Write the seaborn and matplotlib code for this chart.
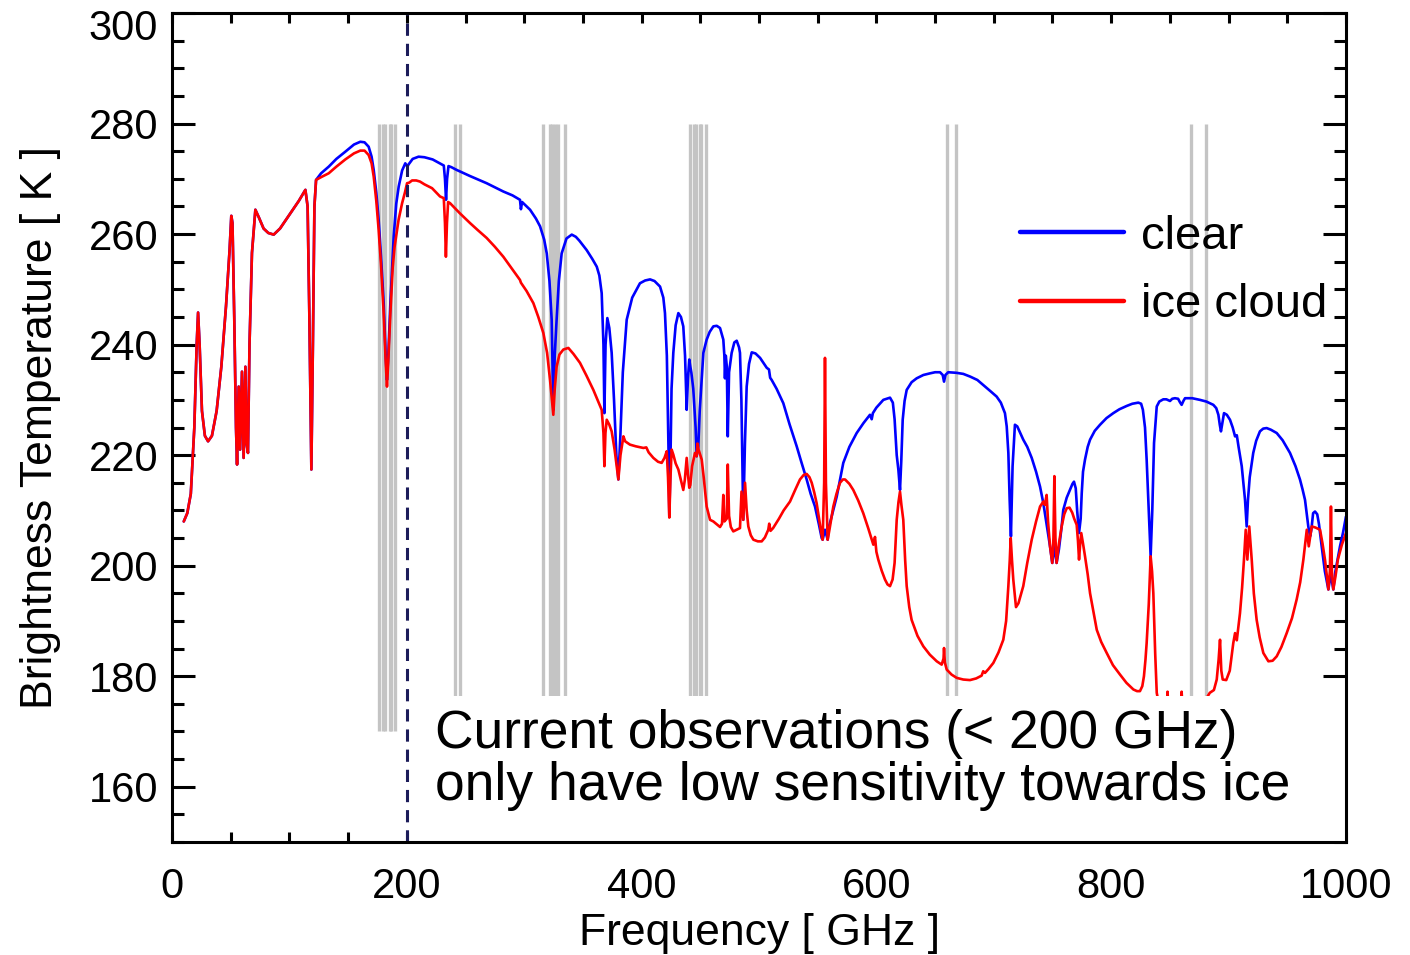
import numpy as np
import pandas as pd
import matplotlib
matplotlib.use("Agg")
import matplotlib.pyplot as plt
import matplotlib.transforms as mtransforms
from matplotlib.patches import Rectangle
from matplotlib.ticker import MultipleLocator
import seaborn as sns

# ---- data ----
# below ~122 GHz both spectra coincide
freq_low = [10, 13, 16, 19, 21, 22.2, 23.5, 25.5, 28, 30.7, 34, 38, 42, 46, 49, 50.5,
            51.5, 53, 54.5, 55.4, 56.8, 58.0, 59.6, 61.0, 62.5, 63.5, 64.7, 66, 68.1,
            71, 74, 78, 82, 86.6, 92, 100, 108, 113.6, 115.5, 117, 118.7, 120, 121.3]
tb_low = [208.0, 209.5, 213, 225, 240, 245.8, 240, 228, 223.5, 222.5, 223.5, 228, 236,
          247, 257, 263.3, 262, 245, 225, 218.3, 232.4, 221, 235.1, 219.5, 236, 222,
          220.4, 240, 256.6, 264.4, 263, 261, 260.2, 259.9, 261, 263.5, 266, 268, 265,
          245, 217.4, 240, 265]

freq_clear = [122.7, 127, 133.5, 140, 147.6, 155, 160.4, 164, 167.5, 170, 171.8, 174, 176,
              178, 180.3, 182, 183.1, 184.2, 186, 188.8, 191, 193.1, 196, 198.7, 200.5,
              201.5, 205, 210, 215, 222, 228, 231.5, 232.5, 233.4, 234.3, 235.5, 238,
              242.5, 253.8, 268, 282.2, 290, 296.4, 297.2, 298.2, 305, 310, 313.5, 317,
              319.2, 321.5, 323.4, 324.8, 326, 327.6, 329.5, 331.9, 336, 340.5, 344, 347,
              353.2, 358, 361.8, 364, 366, 367.5, 368.3, 369.3, 370.8, 372.5, 374.5,
              376.5, 378.5, 380.2, 382, 384, 387.3, 392, 398.6, 403, 407.2, 411, 415.7,
              418.5, 419.9, 421.5, 423, 423.6, 424.5, 425.5, 427, 429, 431.3, 433.5,
              435.5, 437, 438.4, 439.5, 440.6, 441.5, 442.4, 444, 446, 446.9, 448.3,
              449.5, 451.2, 452.6, 455.4, 458, 461.1, 464, 466.8, 469.6, 470.5, 471,
              471.7, 472.6, 473.4, 474.5, 476.7, 479, 481, 483, 483.8, 485, 486.6, 488,
              489.5, 491.5, 493.8, 497, 500.9, 506.6, 508.5, 509.5, 510.8, 515, 520.7,
              526, 532.1, 536, 540.6, 544, 547.7, 551, 553.4, 554.2, 556.2, 558.5, 559.5,
              562, 566.2, 571.8, 577, 583.2, 589, 594.5, 596, 597, 600, 605.9, 611.6,
              614, 615.5, 617.3, 618.7, 620.1, 621.2, 622.4, 624, 625.8, 630, 634.3, 640,
              645.7, 650, 654.2, 656.5, 657.6, 658.8, 661.2, 668, 674, 680, 686, 691, 697,
              702.4, 706, 709.5, 711, 712.4, 713.5, 714.6, 716, 718, 720, 725.1, 728.5,
              732.3, 736, 739.4, 742.2, 745, 747.9, 749.8, 751.6, 753.5, 755.5, 757.8,
              759.2, 762.1, 764.9, 767, 768.3, 769.8, 771, 772.6, 774, 774.9, 776, 777.7,
              780, 782, 786, 790.5, 796, 801.8, 807, 813.2, 818, 823.1, 825.5, 827, 828.8,
              830.2, 832, 833.6, 835, 836.5, 838.8, 841, 844.4, 847, 850.1, 852, 854.3,
              857, 858.5, 860, 861.5, 862.9, 869, 875.6, 881, 887, 889.5, 891.3, 892.5,
              893.5, 894.5, 896.1, 898.5, 901.2, 903.5, 905.5, 907, 908.5, 911.2, 914,
              915.4, 916.5, 918, 921, 923.5, 926.7, 929.5, 932.4, 936, 941, 946, 952.3,
              957, 960.8, 963, 965.1, 967.9, 969.4, 970.5, 972, 973.6, 975.5, 977, 979.3,
              982, 985, 987, 989.2, 991, 994.9, 997.5, 1000]
tb_clear = [269.8, 271, 272.2, 273.6, 274.9, 276.2, 276.7, 276.6, 275.8, 274, 271.6, 267.5,
            262.6, 256, 247.5, 238, 233.6, 238, 247.5, 259.5, 265.5, 268.6, 271.5, 272.8,
            272.2, 272.6, 273.6, 274, 273.9, 273.5, 272.8, 272.4, 270, 266.2, 270, 272.3,
            272.1, 271.6, 270.5, 269.2, 267.7, 267, 266.2, 264.5, 265.8, 264.4, 262.8,
            261.4, 259, 256.5, 251.5, 244.5, 228.2, 238, 244.5, 251.5, 256.5, 259.2,
            259.9, 259.5, 258.8, 257.1, 255.5, 254.1, 252.5, 249.3, 240, 227.6, 240,
            244.8, 243, 238.5, 230, 220, 215.6, 224, 235, 244.5, 248.5, 251.1, 251.6,
            251.8, 251.5, 250.5, 248.5, 245.7, 238, 220, 208.9, 218, 232, 238.5, 243.5,
            245.7, 245, 243.3, 238, 228.2, 234, 237.3, 236, 234.9, 232, 225, 219.8, 221.6,
            228, 233.6, 238.5, 240.9, 242.3, 243.3, 243.4, 243, 240.9, 238, 233.9, 238,
            236, 223.4, 235, 238.5, 240.4, 240.7, 239.5, 238.5, 230, 208.3, 222, 232.4,
            236.5, 238.6, 238.4, 237.6, 235.8, 235.5, 234, 233.6, 232, 229.4, 225.6,
            221.6, 218.8, 215.6, 213, 210.7, 207.5, 205, 204.7, 206.5, 204.7, 207, 209,
            212.5, 218.6, 221.5, 224, 225.8, 227.3, 226.5, 227.6, 228.6, 230, 230.4,
            229.5, 226.5, 220, 217.4, 213.7, 219, 226.4, 229.8, 231.8, 233.2, 233.9,
            234.5, 234.8, 235, 235, 234.5, 233.3, 234.5, 235, 234.9, 234.7, 234.2, 233.6,
            232.7, 231.6, 230.6, 229.5, 227.6, 225.2, 220.4, 212, 205.3, 218, 225.5,
            225.2, 222.8, 221.5, 219.5, 217, 214.3, 211.3, 207.5, 203.5, 200.5, 203.5,
            200.5, 203, 207.1, 210.1, 212.3, 213.7, 214.8, 215.2, 214, 210, 205.9, 208.5,
            213.1, 217, 219.2, 221.5, 222.8, 224.4, 225.5, 226.7, 227.6, 228.3, 228.9,
            229.3, 229.5, 229.3, 228.2, 225, 219.2, 210, 201.7, 210, 222.2, 228.8, 229.7,
            230.1, 230.1, 229.8, 230.2, 230.3, 230.2, 229.6, 229.1, 229.8, 230.3, 230.3,
            230, 229.7, 229.1, 228.5, 227.3, 225.5, 224.3, 225.6, 227.6, 227.3, 226.4,
            225, 223.4, 223.6, 221.5, 218, 211.9, 207.1, 211.9, 216, 220.4, 222.6, 224.3,
            224.8, 224.9, 224.6, 224, 222.7, 220.4, 218, 215.6, 213.8, 211.9, 207.1,
            205.3, 206.5, 209.5, 209.8, 209.3, 207.5, 203.5, 199, 195.7, 198.5, 195.7,
            199, 203.5, 206, 208.9]

freq_ice = [122.7, 127, 133.5, 140, 147.6, 155, 160.4, 164, 167.5, 170, 171.8, 174, 176,
            178, 180.3, 182, 183.1, 184.2, 186, 188, 189.6, 191.5, 193, 196, 198.5, 200.2,
            202, 204.5, 208, 211.2, 215, 221.5, 228.3, 231.5, 232.5, 233.3, 234.2, 235.2,
            236.8, 245, 253.8, 260, 268, 275, 282.2, 290, 296.4, 297.2, 302, 307.8, 312,
            316.3, 319.5, 322, 324.8, 326, 327.6, 330, 333.3, 337.6, 342, 347.5, 353,
            358.9, 362.5, 366, 367.5, 368.3, 369.2, 370.3, 372.5, 374.5, 377, 380.2, 382,
            384.5, 386, 390.1, 395, 401.5, 404, 406, 410, 414, 417.1, 419.5, 421.4, 422.5,
            423.6, 424.6, 425.6, 427, 429, 431.3, 433.5, 435.5, 436.8, 438.4, 439.5,
            440.6, 441.5, 443, 445.5, 446.9, 447.6, 448.5, 450, 451.2, 453, 455.4, 458.3,
            461.1, 464, 466.8, 468.5, 469.6, 470.5, 472.5, 473.4, 474.5, 476, 478.1, 481,
            483.8, 485.1, 486.6, 488.1, 489.5, 490.9, 493, 495.2, 499, 502.3, 505, 507.9,
            508.7, 509.8, 512, 517, 521, 526.4, 531, 534.9, 538, 540.6, 543, 544.9, 547,
            549.1, 551.5, 553, 554.2, 555.5, 556.2, 557, 558.5, 560, 563.3, 566, 569,
            571.5, 573.3, 577, 580.3, 584.5, 588.8, 593, 597.4, 598.8, 600, 601.6, 604.5,
            607.3, 609.5, 611.6, 613.8, 615.5, 617.3, 618.8, 620.1, 621.3, 622.9, 624.5,
            625.8, 628, 630, 635, 640, 645.5, 651.4, 655.6, 657.2, 657.6, 658.3, 659.9,
            664, 668.4, 674, 679.7, 685, 689.6, 691, 692.5, 695.5, 699.6, 704, 708.1,
            710.5, 712.4, 713.6, 714.4, 715.5, 716.6, 718.9, 721, 725.1, 728.5, 732.3,
            736, 739.4, 742.2, 743.5, 745, 746.2, 747.9, 749.8, 750.8, 751.6, 752.5,
            753.5, 755.5, 757.8, 760, 762.1, 764.5, 766.8, 768.5, 770.6, 771.7, 772.6,
            773.6, 774.5, 776, 777.7, 780, 782, 785, 787.7, 791.5, 796.2, 801.5, 807.5,
            813, 818.9, 822, 824.5, 826.5, 827.9, 829.2, 830.2, 832, 833.6, 834.8, 835.9,
            837.5, 838.8, 841, 845, 847.3, 848, 848.8, 853, 857, 859.2, 860, 860.8, 866,
            872, 877, 880, 884, 887.5, 889.9, 891.5, 892.7, 893.8, 895, 898, 901, 904,
            905.5, 907, 909.7, 911.5, 913.1, 914.6, 916, 917.6, 919.7, 921.5, 923.9,
            926.5, 929.6, 933.9, 937.5, 941, 945, 949.5, 954, 958, 961, 963.7, 966.6,
            968.3, 970.8, 974, 977.9, 980, 982.1, 985, 986.3, 987.2, 988, 989.2, 991,
            993.1, 996.5, 1000]
tb_ice = [269.8, 270.3, 271, 272.2, 273.5, 274.6, 275.1, 275.1, 274.3, 272.8, 270.4, 266,
          260.8, 254.5, 245.7, 237, 232.4, 237, 245.7, 254, 257.7, 260.5, 262.6, 265.6,
          267.6, 269.2, 269.3, 269.7, 269.7, 269.5, 269, 268.3, 266.8, 266.5, 262, 255.9,
          262, 265.8, 265.6, 263.8, 262, 260.8, 259.3, 257.7, 255.9, 253.6, 251.7, 251.2,
          249.7, 247.5, 245, 242.1, 238.5, 233.6, 227.3, 232, 236, 238.2, 239.1, 239.4,
          238.3, 236.7, 234.4, 231.8, 230.0, 228.2, 224, 218, 224, 226.4, 225.5, 224.3,
          221, 215.6, 220, 223.4, 222.5, 221.9, 221.6, 221.3, 221.4, 220.5, 219.5, 218.8,
          218.6, 219.5, 220.7, 216, 208.7, 216, 221, 220.1, 218.5, 217.4, 215.5, 213.7,
          215.5, 219.5, 216.5, 214.1, 214.6, 218, 220.4, 219.8, 222.1, 221, 220, 219.2,
          215.8, 210.7, 208.3, 208, 207.5, 207, 207.6, 212.8, 208, 208.5, 218.3, 209, 207,
          206.2, 206.5, 206.8, 213.4, 208.3, 215.0, 210, 207.1, 205.5, 204.7, 204.4,
          204.4, 205.1, 206.5, 207.6, 206.3, 206.8, 208.5, 210, 211.6, 213.8, 215.6,
          216.4, 216.6, 216, 215, 213.3, 211.3, 208, 206, 204.7, 215, 237.6, 215, 204.7,
          206.5, 210.7, 213, 215, 215.6, 215.6, 214.8, 213.7, 211.8, 209.5, 206.8, 203.8,
          205.2, 202.5, 201.1, 199.1, 197.5, 196.6, 196.3, 197.5, 200.5, 208.3, 211.5,
          213.4, 211, 208.3, 201, 196.3, 192.5, 190.2, 187.3, 185.4, 183.9, 182.7, 182.1,
          183.2, 185.1, 182.5, 181.2, 180.3, 179.7, 179.4, 179.3, 179.6, 180.1, 180.9,
          180.6, 181.3, 182.4, 184.3, 186.6, 190, 196.3, 201, 205, 201, 197.5, 192.5,
          193.2, 196.3, 200.5, 204.7, 208, 210.7, 211.6, 211.0, 212.8, 208, 203.5, 200.5,
          205, 216.2, 205, 200.5, 204, 207.1, 209.3, 210.4, 210.5, 209.6, 208.5, 207.4,
          204.5, 201.1, 204, 205.9, 204, 201.7, 198.4, 195, 191.5, 188.4, 186.2, 184.2,
          182, 180.3, 178.8, 177.6, 177.3, 177.3, 178.2, 180, 183, 186, 193, 201.7, 199,
          195, 184, 177, 174.5, 173.6, 174, 177.2, 174, 173.8, 173.7, 174, 177.2, 174,
          173.8, 174, 174.6, 175.6, 177, 177.5, 179.4, 183, 186.6, 181, 179.4, 179.3, 181,
          186, 187.8, 186.5, 191.4, 196, 201.1, 206.5, 201.1, 207.1, 201.1, 195, 190.2,
          187, 184.2, 182.7, 182.8, 183.6, 185.3, 187.8, 190.5, 193.9, 197, 201.1, 206.5,
          203.5, 207.1, 206.9, 206.5, 204, 201.1, 195.7, 199, 210.7, 199, 195.7, 198,
          201.1, 203.8, 205.9]

# channel positions (grey bars) [GHz]
chan_183 = [176.31, 179.91, 181.31, 185.31, 186.71, 190.31]
chan_high = [240.7, 245.7, 315.65, 321.65, 323.65, 326.65, 328.65, 334.65,
             440.8, 445.0, 446.6, 449.4, 451.0, 455.2, 659.8, 668.2, 868.4, 880.4]

clear = pd.DataFrame({"freq": freq_low + freq_clear, "tb": tb_low + tb_clear})
ice = pd.DataFrame({"freq": freq_low + freq_ice, "tb": tb_low + tb_ice})

sns.set_theme(style="ticks")
plt.rcParams["font.family"] = ["Liberation Sans", "DejaVu Sans"]
plt.rcParams.update({"text.color": "black", "axes.labelcolor": "black",
                     "xtick.color": "black", "ytick.color": "black"})

fig = plt.figure(figsize=(14.1, 9.55), dpi=100)
ax = fig.add_axes([0.122, 0.1183, 0.8326, 0.8681])

# grey channel markers
ax.vlines(chan_183, 170, 280, color="#c4c4c4", lw=2.4, zorder=1)
ax.vlines(chan_high, 176.5, 280, color="#c4c4c4", lw=2.4, zorder=1)

sns.lineplot(data=clear, x="freq", y="tb", ax=ax, color="#0000ff", lw=1.9,
             label="clear", sort=False, zorder=3)
sns.lineplot(data=ice, x="freq", y="tb", ax=ax, color="#ff0000", lw=1.9,
             label="ice cloud", sort=False, zorder=4)

ax.axvline(200, color="#1c1c5a", lw=2.2, dashes=(4, 2.6), zorder=6)

# white box behind the annotation
ax.add_patch(Rectangle((205, 150.2), 794, 26.2, facecolor="white", edgecolor="none",
                       zorder=7))
ax.text(224, 174.0, "Current observations (< 200 GHz)\nonly have low sensitivity towards ice",
        fontsize=38.4, va="top", ha="left", linespacing=1.04, zorder=8)

ax.set_xlim(0, 1000)
ax.set_ylim(150, 300)
ax.xaxis.set_major_locator(MultipleLocator(200))
ax.xaxis.set_minor_locator(MultipleLocator(50))
ax.yaxis.set_minor_locator(MultipleLocator(5))
ax.set_yticks([160, 180, 200, 220, 240, 260, 280, 300])

ax.tick_params(which="both", direction="in", top=True, right=True, width=2.2,
               color="black", labelsize=30)
ax.tick_params(axis="x", which="both", length=7, pad=18)
ax.tick_params(axis="y", which="major", length=16.5, pad=10)
ax.tick_params(axis="y", which="minor", length=8.6)
for sp in ax.spines.values():
    sp.set_linewidth(2.2)
    sp.set_color("black")
    sp.set_zorder(10)

# top label sits a little below its tick, as in the original
fig.canvas.draw()
top_lab = ax.get_yticklabels()[-1]
top_lab.set_transform(top_lab.get_transform() +
                      mtransforms.ScaledTranslation(0, -12 / 100, fig.dpi_scale_trans))

ax.set_xlabel("Frequency [ GHz ]", fontsize=32, labelpad=4)
ax.set_ylabel("Brightness Temperature [ K ]", fontsize=32, labelpad=20)

leg = ax.legend(loc="upper right", bbox_to_anchor=(1.004, 0.785), frameon=False,
                fontsize=34, handlelength=2.2, handletextpad=0.35, labelspacing=0.52,
                borderaxespad=0.1)
for h in leg.get_lines():
    h.set_linewidth(3.2)
leg.set_zorder(9)

fig.savefig("out.png", dpi=100)
